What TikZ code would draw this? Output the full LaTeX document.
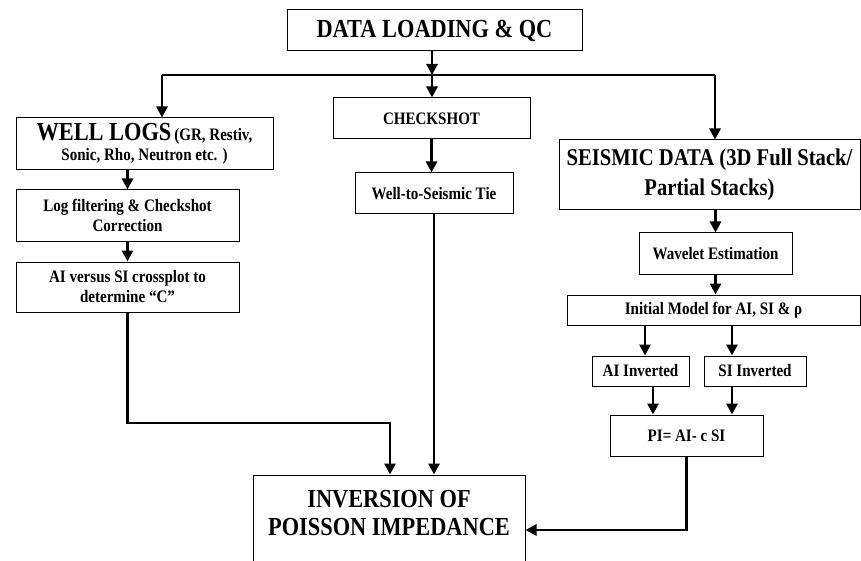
\documentclass[tikz,border=0pt]{standalone}
\usepackage{fontspec}
\setmainfont[FakeStretch=0.86]{Liberation Serif}
\usepackage{tikz}
\usetikzlibrary{arrows.meta}
\tikzstyle{box} = [draw, line width=1pt, inner sep=0pt, align=center,
    font=\bfseries\fontsize{17.5}{20}\selectfont]
\tikzstyle{bigbox} = [box, font=\bfseries\fontsize{26}{28}\selectfont]
\tikzstyle{wire} = [line width=2.8pt]
\tikzstyle{flow} = [wire, -{Triangle[length=11pt,width=11pt]}]
\newcommand{\flowbox}[6]{
    \node(#1) at (#2) [#3, minimum width=#4, minimum height=#5] {#6};
}

\begin{document}
\begin{tikzpicture}[x=1pt, y=-1pt]
	\useasboundingbox (0,0) rectangle (861,561);

	\flowbox{load}{434.5,30.5}{bigbox}{295}{41}{DATA LOADING \& QC}
	\flowbox{wlogs}{144.5,144}{box}{257}{52}{{\fontsize{26}{22}\selectfont WELL LOGS}\,(GR, Restiv,\\Sonic, Rho, Neutron etc. )}
	\flowbox{filt}{127.5,215.5}{box}{223}{51}{Log filtering \& Checkshot\\Correction}
	\flowbox{cross}{127.5,287}{box}{223}{50}{AI versus SI crossplot to\\determine ``C''}
	\flowbox{chk}{431.5,118.5}{box}{197}{41}{CHECKSHOT}
	\flowbox{tie}{434,193.5}{box}{158}{41}{Well-to-Seismic Tie}
	\flowbox{seis}{709.5,175}{box, font=\bfseries\fontsize{24}{30}\selectfont}{301}{70}{SEISMIC DATA (3D Full Stack/\\Partial Stacks)}
	\flowbox{wav}{715.5,253.5}{box}{153}{41}{Wavelet Estimation}
	\flowbox{init}{713.5,310}{box}{293}{30}{Initial Model for AI, SI \& ρ}
	\flowbox{aiinv}{640.5,371}{box}{97}{30}{AI Inverted}
	\flowbox{siinv}{755,371}{box}{102}{30}{SI Inverted}
	\flowbox{pi}{686.5,435.5}{box}{153}{41}{PI= AI- c SI}
	\flowbox{inv}{389,530}{box}{272}{110}{}
	\node(invtext) at (389,513) [align=center, font=\bfseries\fontsize{26}{28}\selectfont] {INVERSION OF\\POISSON IMPEDANCE};

	\coordinate (bus) at (432,75);
	\coordinate (busl) at (162,75);
	\coordinate (busr) at (715,75);
	\coordinate (bend) at (390,423);

	\draw[flow] (load.south -| bus) -- (bus);
	\draw[wire] (busl) -- (busr);
	\draw[flow] (bus) -- (bus |- chk.north);
	\draw[flow] (busl) -- (busl |- wlogs.north);
	\draw[flow] (busr) -- (busr |- seis.north);

	\draw[flow] (chk.south) -- (chk.south |- tie.north);
	\draw[flow] (tie.south) -- (tie.south |- inv.north);

	\draw[flow] (filt.north |- wlogs.south) -- (filt.north);
	\draw[flow] (filt.south) -- (cross.north);
	\draw[flow] (cross.south) |- (bend) -- (bend |- inv.north);

	\draw[flow] (wav.north |- seis.south) -- (wav.north);
	\draw[flow] (wav.south) -- (wav.south |- init.north);
	\draw[flow] ([xshift=4.5pt]aiinv.north |- init.south) -- ([xshift=4.5pt]aiinv.north);
	\draw[flow] ([xshift=-23pt]siinv.north |- init.south) -- ([xshift=-23pt]siinv.north);
	\draw[flow] ([xshift=12.5pt]aiinv.south) -- ([xshift=12.5pt]aiinv.south |- pi.north);
	\draw[flow] ([xshift=-23pt]siinv.south) -- ([xshift=-23pt]siinv.south |- pi.north);
	\draw[flow] (pi.south) |- (inv.east);
\end{tikzpicture}
\end{document}
